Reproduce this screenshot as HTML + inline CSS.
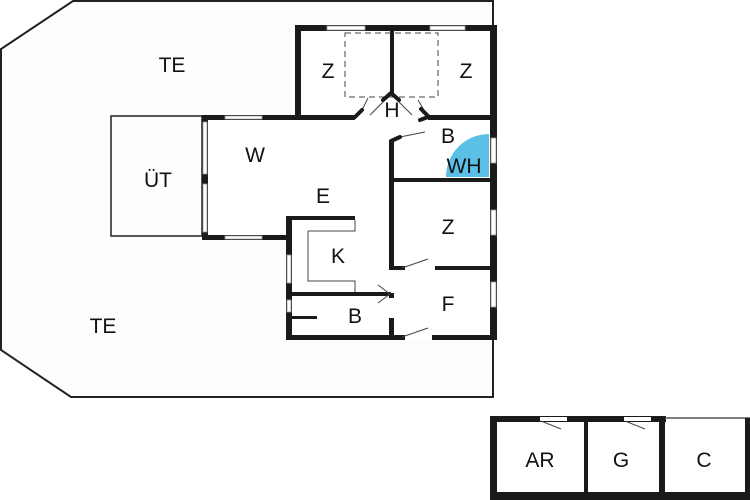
<!DOCTYPE html>
<html><head><meta charset="utf-8"><style>
html,body{margin:0;padding:0;background:#fff}
svg{display:block}
text{font-family:"Liberation Sans",sans-serif;font-size:21px;fill:#111;text-anchor:middle}
</style></head><body>
<svg width="750" height="500" viewBox="0 0 750 500">
<rect width="750" height="500" fill="#fff"/>
<polygon points="73,1 493,1 493,397 71,397 1,350 1,49" fill="#fdfdfc" stroke="#222" stroke-width="2"/>
<rect x="111" y="116" width="91" height="120" fill="#fdfdfc" stroke="#222" stroke-width="1.5"/>
<polygon points="297,27 494,27 494,339 287,339 287,237 205,237 205,117 297,117" fill="#fff"/>
<path d="M489,177 L446,177 A43,43 0 0 1 489,134 Z" fill="#5bbfe6"/>
<g fill="#1a1a1a">
<rect x="295" y="25" width="202" height="6"/>
<rect x="490" y="25" width="7" height="315"/>
<rect x="295" y="25" width="6" height="95"/>
<rect x="202" y="115" width="98" height="5"/>
<rect x="297" y="115" width="58" height="5"/>
<rect x="428" y="115" width="66" height="5"/>
<rect x="390" y="27" width="4" height="66"/>
<rect x="389" y="140" width="5" height="130"/>
<rect x="389" y="293" width="5" height="5"/>
<rect x="389" y="318" width="5" height="22"/>
<rect x="391" y="178" width="103" height="4"/>
<rect x="391" y="266" width="14" height="4"/>
<rect x="435" y="266" width="59" height="4"/>
<rect x="287" y="335" width="118" height="5"/>
<rect x="432" y="335" width="62" height="5"/>
<rect x="202" y="115" width="6" height="125"/>
<rect x="202" y="235" width="88" height="5"/>
<rect x="287" y="216" width="68" height="4"/>
<rect x="286" y="216" width="6" height="124"/>
<rect x="279" y="235" width="10" height="4"/>
<rect x="290" y="292" width="101" height="4"/>
<rect x="290" y="316" width="27" height="3"/>
</g>
<g fill="#fff" stroke="#999" stroke-width="0.8">
<rect x="327" y="26" width="38" height="4"/>
<rect x="430" y="26" width="35" height="4"/>
<rect x="491" y="138" width="5" height="25"/>
<rect x="491" y="210" width="5" height="25"/>
<rect x="491" y="282" width="5" height="25"/>
<rect x="203" y="122" width="4" height="52"/>
<rect x="203" y="184" width="4" height="48"/>
<rect x="225" y="116" width="37" height="3"/>
<rect x="225" y="236" width="37" height="3"/>
<rect x="287" y="255" width="4" height="28"/>
<rect x="287" y="300" width="4" height="12"/>
</g>
<g stroke="#444" stroke-width="1" fill="none">
<rect x="345" y="33" width="93" height="64" stroke-dasharray="6,4"/>
<polyline points="308,231 355,231 355,220"/>
<polyline points="308,231 308,281 355,281 355,292"/>
<line x1="402" y1="268" x2="428" y2="259"/>
<line x1="402" y1="337" x2="428" y2="328"/>
<line x1="400" y1="137" x2="425" y2="132"/>
<line x1="378" y1="285" x2="390" y2="294"/>
<line x1="378" y1="303" x2="390" y2="294"/>
<line x1="362" y1="110" x2="368" y2="98"/>
<line x1="418" y1="100" x2="424" y2="110"/>
<line x1="370" y1="115" x2="391" y2="94"/>
<line x1="412" y1="115" x2="391" y2="94"/>
</g>
<g stroke="#1a1a1a" stroke-width="4" stroke-linecap="round">
<line x1="355" y1="117" x2="362" y2="110"/>
<line x1="383" y1="100" x2="391" y2="93"/>
<line x1="391" y1="93" x2="399" y2="100"/>
<line x1="421" y1="109" x2="429" y2="117"/>
<line x1="400" y1="137" x2="391" y2="141"/>
<line x1="420" y1="120" x2="428" y2="117"/>
</g>
<rect x="490" y="417" width="7" height="83" fill="#1a1a1a"/>
<rect x="490" y="492" width="260" height="8" fill="#1a1a1a"/>
<rect x="490" y="416" width="176" height="6" fill="#1a1a1a"/>
<rect x="540" y="417" width="27" height="4" fill="#fff"/>
<rect x="624" y="417" width="27" height="4" fill="#fff"/>
<rect x="584" y="418" width="4" height="76" fill="#1a1a1a"/>
<rect x="659" y="418" width="6" height="76" fill="#1a1a1a"/>
<line x1="665" y1="418" x2="750" y2="418" stroke="#555" stroke-width="1.5"/>
<rect x="745" y="418" width="5" height="80" fill="#1a1a1a"/>
<line x1="541" y1="421" x2="561" y2="429" stroke="#444"/>
<line x1="625" y1="421" x2="645" y2="429" stroke="#444"/>
<text x="172" y="72">TE</text>
<text x="103" y="333">TE</text>
<text x="158" y="187">ÜT</text>
<text x="255" y="162">W</text>
<text x="323" y="203">E</text>
<text x="328" y="78">Z</text>
<text x="466" y="78">Z</text>
<text x="392" y="117">H</text>
<text x="448" y="143">B</text>
<text x="464" y="173">WH</text>
<text x="448" y="234">Z</text>
<text x="338" y="263">K</text>
<text x="448" y="311">F</text>
<text x="355" y="323">B</text>
<text x="540" y="467">AR</text>
<text x="621" y="467">G</text>
<text x="704" y="467">C</text>
</svg>
</body></html>
